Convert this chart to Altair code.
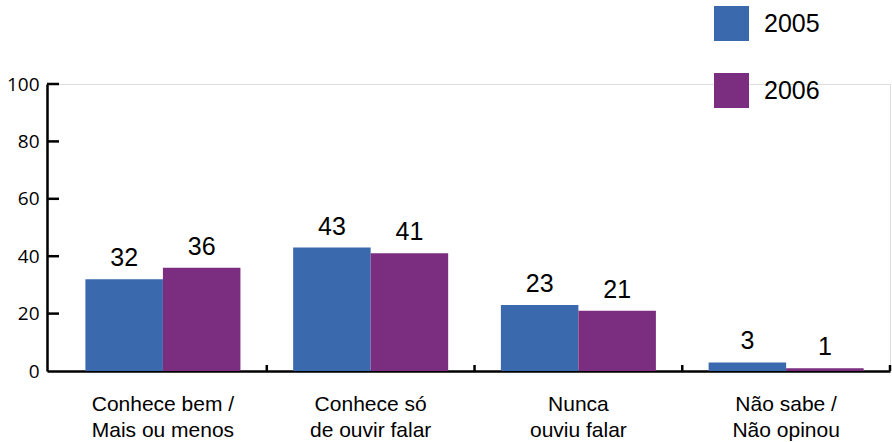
import altair as alt
import pandas as pd

cats = ["Conhece bem /|Mais ou menos", "Conhece só|de ouvir falar", "Nunca|ouviu falar", "Não sabe /|Não opinou"]
years = ["2005", "2006"]
v2005 = [32, 43, 23, 3]
v2006 = [36, 41, 21, 1]
ytick_vals = [0, 20, 40, 60, 80, 100]
colors = ["#3B69AE", "#7B2E7F"]

rows = []
for c, a, b in zip(cats, v2005, v2006):
    rows.append({"cat": c, "year": years[0], "value": a})
    rows.append({"cat": c, "year": years[1], "value": b})
df = pd.DataFrame(rows)

xscale = alt.Scale(domain=cats, paddingInner=0, paddingOuter=0.029, align=1)
yscale = alt.Scale(domain=[0, 100], nice=False)
offscale = alt.Scale(domain=years, paddingInner=0, paddingOuter=0.34)

xaxis = alt.Axis(title=None, ticks=False, labelAngle=0, labelExpr="split(datum.label, '|')",
                 labelFont="Liberation Sans", labelFontSize=21, labelLineHeight=26,
                 labelPadding=22, labelColor="black", domainColor="black", domainWidth=2.5,
                 grid=False)
yaxis = alt.Axis(title=None, ticks=False, values=ytick_vals, labelFont="Open Sans",
                 labelFontSize=19, labelPadding=8, labelColor="black", domainColor="black",
                 domainWidth=2.5, grid=False)

base = alt.Chart(df)

bars = base.mark_bar().encode(
    x=alt.X("cat:N", scale=xscale, axis=xaxis),
    xOffset=alt.XOffset("year:N", scale=offscale),
    y=alt.Y("value:Q", scale=yscale, axis=yaxis),
    color=alt.Color("year:N", scale=alt.Scale(domain=years, range=colors),
                    legend=alt.Legend(title=None, orient="none", legendX=667, legendY=-78,
                                      symbolType="square", symbolSize=1225, symbolStrokeWidth=0,
                                      symbolOpacity=1, labelFont="Liberation Sans", labelFontSize=25,
                                      labelColor="black", labelOffset=15, rowPadding=32, padding=0)),
)

texts = base.mark_text(dy=-13, baseline="alphabetic", fontSize=25, font="Liberation Sans",
                       color="black").encode(
    x=alt.X("cat:N", scale=xscale, axis=xaxis),
    xOffset=alt.XOffset("year:N", scale=offscale),
    y=alt.Y("value:Q", scale=yscale, axis=yaxis),
    text=alt.Text("value:Q"),
)

ydf = pd.DataFrame({"v": ytick_vals[1:]})
yticks = alt.Chart(ydf).mark_rule(color="black", strokeWidth=2.5).encode(
    y=alt.Y("v:Q", scale=yscale, axis=yaxis),
    x=alt.value(0),
    x2=alt.value(12),
)

bdf = pd.DataFrame({"cat": cats[1:]})
bticks = alt.Chart(bdf).mark_rule(color="black", strokeWidth=2.5).encode(
    x=alt.X("cat:N", scale=xscale, axis=xaxis, bandPosition=0),
    y=alt.value(281),
    y2=alt.value(287),
)
edf = pd.DataFrame({"cat": cats[-1:]})
eticks = alt.Chart(edf).mark_rule(color="black", strokeWidth=2.5).encode(
    x=alt.X("cat:N", scale=xscale, axis=xaxis, bandPosition=1),
    y=alt.value(281),
    y2=alt.value(287),
)

chart = alt.layer(bars, texts, yticks, bticks, eticks).properties(
    width=843, height=287,
    padding={"left": 47, "top": 84, "right": 2, "bottom": 71},
    autosize=alt.AutoSizeParams(type="none"),
).configure_view(stroke=None).configure(background="white")

chart.save("out.html", embed_options={"renderer": "svg", "actions": False})
